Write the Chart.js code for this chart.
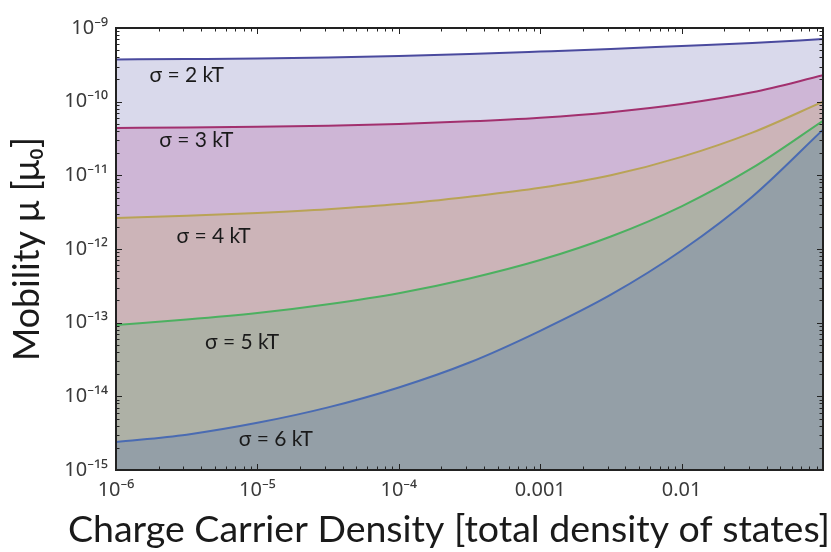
<!DOCTYPE html>
<html><head><meta charset="utf-8">
<script src="https://cdn.jsdelivr.net/npm/chart.js@4/dist/chart.umd.min.js"></script>
<style>html,body{margin:0;padding:0;background:#fff}#wrap{width:831px;height:552px;position:relative}</style>
</head><body><div id="wrap"><canvas id="c" width="831" height="552"></canvas></div>
<script>
// ---- data ----
const density = [1e-6, 3.16e-6, 1e-5, 3.16e-5, 1e-4, 3.16e-4, 1e-3, 3.16e-3, 1e-2, 3.16e-2, 1e-1];
const sigma2kT = [3.74e-10, 3.79e-10, 3.85e-10, 3.98e-10, 4.17e-10, 4.44e-10, 4.79e-10, 5.19e-10, 5.70e-10, 6.25e-10, 7.08e-10];
const sigma3kT = [4.40e-11, 4.45e-11, 4.55e-11, 4.71e-11, 4.99e-11, 5.41e-11, 6.07e-11, 7.21e-11, 9.29e-11, 1.34e-10, 2.28e-10];
const sigma4kT = [2.63e-12, 2.82e-12, 3.09e-12, 3.47e-12, 4.07e-12, 5.13e-12, 6.76e-12, 1.00e-11, 1.78e-11, 3.80e-11, 1.00e-10];
const sigma5kT = [9.33e-14, 1.10e-13, 1.35e-13, 1.78e-13, 2.51e-13, 3.98e-13, 7.08e-13, 1.48e-12, 3.80e-12, 1.26e-11, 5.50e-11];
const sigma6kT = [2.40e-15, 3.02e-15, 4.37e-15, 7.08e-15, 1.32e-14, 2.88e-14, 7.76e-14, 2.40e-13, 9.55e-13, 5.13e-12, 4.17e-11];
const seriesNames = ['σ = 2 kT', 'σ = 3 kT', 'σ = 4 kT', 'σ = 5 kT', 'σ = 6 kT'];
// label anchor positions in data space
const labelDensity = [3.16e-6, 3.7e-6, 4.9e-6, 7.8e-6, 1.35e-5];
const labelMobility = [2.3e-10, 2.95e-11, 1.5e-12, 5.5e-14, 2.6e-15];
const xTickValues = [1e-6, 1e-5, 1e-4, 1e-3, 1e-2, 1e-1];
const xTickLabels = ['10⁻⁶', '10⁻⁵', '10⁻⁴', '0.001', '0.01', ''];
const yTickValues = [1e-15, 1e-14, 1e-13, 1e-12, 1e-11, 1e-10, 1e-9];
const yTickLabels = ['10⁻¹⁵', '10⁻¹⁴', '10⁻¹³', '10⁻¹²', '10⁻¹¹', '10⁻¹⁰', '10⁻⁹'];
const xTitle = 'Charge Carrier Density [total density of states]';
const yTitle = 'Mobility μ [μ₀]';

// ---- styles ----
const lineColors = ['#4a4a9e', '#a2306e', '#b9a356', '#4cb060', '#4a6bb2'];
const fillColors = ['#d9d9eb', '#ceb6d6', '#ccb4b8', '#aeb1a6', '#949fa7'];
const FAM = "Lato, 'Noto Sans', sans-serif";
const TICKFAM = "'Noto Sans', sans-serif";
const X_TITLE_WIDTH = 763, Y_TITLE_LENGTH = 224, X_TITLE_PAD = 5;

function minorTicks(min, max) {
  const out = [];
  for (let e = Math.round(Math.log10(min)); e <= Math.round(Math.log10(max)); e++) {
    for (let k = 1; k <= 9; k++) {
      const v = k * Math.pow(10, e);
      if (v >= min * 0.999 && v <= max * 1.001) out.push({v, major: k === 1});
    }
  }
  return out;
}

const framePlugin = {
  id: 'frame',
  afterDatasetsDraw(chart) {
    const {ctx, chartArea: a, scales} = chart;
    ctx.save();
    ctx.strokeStyle = '#222';
    ctx.lineWidth = 1;
    minorTicks(1e-6, 1e-1).forEach(t => {
      const px = Math.round(scales.x.getPixelForValue(t.v)) + 0.5;
      const len = t.major ? 6 : 3.5;
      ctx.beginPath();
      ctx.moveTo(px, a.bottom); ctx.lineTo(px, a.bottom - len);
      ctx.moveTo(px, a.top); ctx.lineTo(px, a.top + len);
      ctx.stroke();
    });
    minorTicks(1e-15, 1e-9).forEach(t => {
      const py = Math.round(scales.y.getPixelForValue(t.v)) + 0.5;
      const len = t.major ? 6 : 3.5;
      ctx.beginPath();
      ctx.moveTo(a.left, py); ctx.lineTo(a.left + len, py);
      ctx.moveTo(a.right, py); ctx.lineTo(a.right - len, py);
      ctx.stroke();
    });
    ctx.lineWidth = 2;
    ctx.strokeRect(a.left, a.top, a.right - a.left, a.bottom - a.top);
    // curve labels
    ctx.fillStyle = '#1a1a1a';
    ctx.font = '21px ' + FAM;
    ctx.textAlign = 'center';
    ctx.textBaseline = 'middle';
    seriesNames.forEach((n, i) => {
      ctx.fillText(n, scales.x.getPixelForValue(labelDensity[i]), scales.y.getPixelForValue(labelMobility[i]));
    });
    ctx.restore();
  }
};

function build() {
  const mc = document.createElement('canvas').getContext('2d');
  mc.font = '100px ' + FAM;
  const xSize = Math.round(100 * X_TITLE_WIDTH / mc.measureText(xTitle).width * 10) / 10;
  const ySize = Math.round(100 * Y_TITLE_LENGTH / mc.measureText(yTitle).width * 10) / 10;
  const xTitleBox = Math.round(xSize * 1.2) + X_TITLE_PAD;

  const allSeries = [sigma2kT, sigma3kT, sigma4kT, sigma5kT, sigma6kT];
  const datasets = allSeries.map((s, i) => ({
    label: seriesNames[i],
    data: density.map((d, j) => ({x: d, y: s[j]})),
    borderColor: lineColors[i],
    backgroundColor: fillColors[i],
    borderWidth: 2,
    pointRadius: 0,
    cubicInterpolationMode: 'monotone',
    fill: i < allSeries.length - 1 ? '+1' : 'start'
  }));

  new Chart(document.getElementById('c'), {
    type: 'line',
    data: {datasets},
    options: {
      responsive: false,
      animation: false,
      devicePixelRatio: 1,
      layout: {padding: {top: 28, right: 1, left: 0, bottom: 0}},
      plugins: {
        legend: {display: false}, tooltip: {enabled: false},
        filler: {drawTime: 'beforeDatasetsDraw'},
        title: {display: true, text: xTitle, position: 'bottom', align: 'end', color: '#1a1a1a',
          font: {family: FAM, size: xSize, weight: 'normal', lineHeight: 1.2}, padding: {top: X_TITLE_PAD, bottom: 0}}
      },
      scales: {
        x: {
          type: 'logarithmic', min: 1e-6, max: 1e-1,
          afterBuildTicks: s => { s.ticks = xTickValues.map(v => ({value: v})); },
          afterFit: s => { s.height = 82 - xTitleBox; },
          grid: {display: false, drawTicks: false},
          border: {display: false},
          ticks: {
            autoSkip: false, maxRotation: 0, padding: 8,
            color: '#3a3a3a', font: {family: TICKFAM, size: 20},
            callback: v => { const i = xTickValues.findIndex(t => Math.abs(t - v) / t < 1e-6); return i >= 0 ? xTickLabels[i] : ''; }
          }
        },
        y: {
          type: 'logarithmic', min: 1e-15, max: 1e-9,
          afterBuildTicks: s => { s.ticks = yTickValues.map(v => ({value: v})); },
          afterFit: s => { s.width = 116; },
          grid: {display: false, drawTicks: false},
          border: {display: false},
          ticks: {
            autoSkip: false, padding: 8,
            color: '#3a3a3a', font: {family: TICKFAM, size: 20},
            callback: v => { const i = yTickValues.findIndex(t => Math.abs(t - v) / t < 1e-6); return i >= 0 ? yTickLabels[i] : ''; }
          },
          title: {display: true, text: yTitle, color: '#1a1a1a',
            font: {family: FAM, size: ySize}, padding: {top: 6, bottom: 0}}
        }
      }
    },
    plugins: [framePlugin]
  });
}

if (document.fonts && document.fonts.load) {
  Promise.all([document.fonts.load('30px Lato'), document.fonts.load("19px 'Noto Sans'")])
    .then(build, build);
} else { build(); }
</script>
</body></html>
